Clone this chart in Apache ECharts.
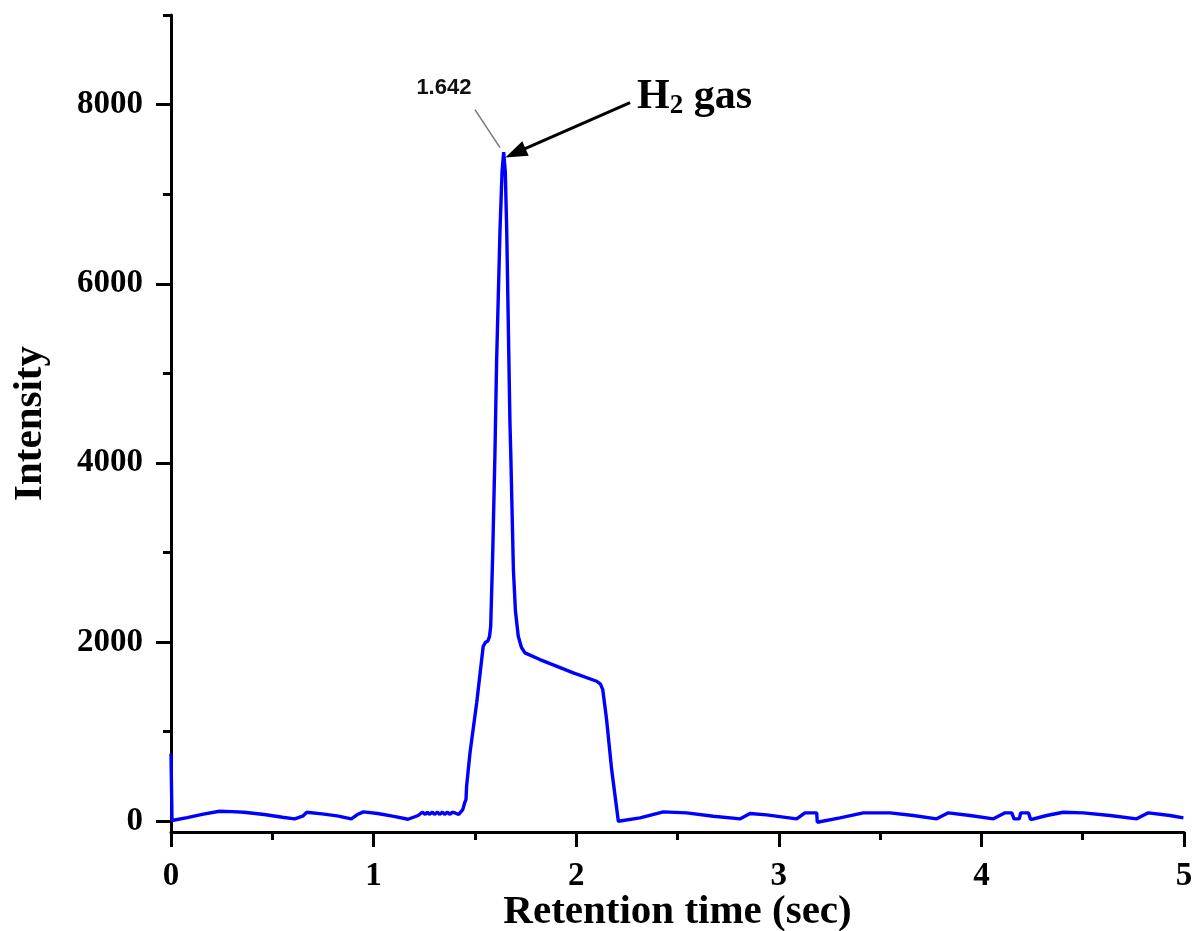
<!DOCTYPE html>
<html>
<head>
<meta charset="utf-8">
<script src="https://cdn.jsdelivr.net/npm/echarts@6/dist/echarts.min.js"></script>
<style>
html,body{margin:0;padding:0;background:#fff;}
#chart{width:1196px;height:931px;}
</style>
</head>
<body>
<div id="chart"></div>
<script>
// ---- data ----
const retentionTime = [0, 0.005, 0.08, 0.16, 0.24, 0.30, 0.36, 0.46, 0.55, 0.61, 0.65, 0.67, 0.745, 0.82, 0.89, 0.92, 0.95, 1.02, 1.10, 1.17, 1.22, 1.24, 1.255, 1.265, 1.275, 1.29, 1.30, 1.315, 1.325, 1.34, 1.35, 1.365, 1.375, 1.39, 1.40, 1.42, 1.44, 1.45, 1.456, 1.459, 1.476, 1.509, 1.541, 1.553, 1.563, 1.572, 1.578, 1.588, 1.599, 1.607, 1.624, 1.634, 1.642, 1.650, 1.657, 1.673, 1.677, 1.690, 1.700, 1.714, 1.730, 1.747, 1.821, 1.986, 2.101, 2.120, 2.131, 2.150, 2.175, 2.208, 2.315, 2.43, 2.545, 2.677, 2.81, 2.858, 2.94, 3.088, 3.129, 3.187, 3.190, 3.302, 3.417, 3.516, 3.549, 3.664, 3.779, 3.837, 3.944, 4.059, 4.117, 4.150, 4.161, 4.187, 4.194, 4.232, 4.243, 4.322, 4.404, 4.503, 4.635, 4.766, 4.824, 4.931, 4.997];
const intensity = [750, 8, 40, 80, 112, 108, 100, 75, 45, 27, 56, 100, 82, 60, 27, 75, 105, 86, 55, 22, 64, 100, 78, 100, 78, 100, 78, 100, 78, 100, 78, 100, 78, 100, 95, 75, 130, 210, 242, 390, 767, 1325, 1953, 2000, 2009, 2060, 2177, 2996, 4115, 5120, 6605, 7250, 7470, 7250, 6605, 4447, 4112, 2810, 2350, 2065, 1940, 1880, 1805, 1656, 1563, 1530, 1470, 1135, 577, 0, 38, 105, 94, 56, 27, 86, 71, 27, 94, 94, -11, 38, 94, 94, 94, 64, 27, 94, 64, 27, 94, 94, 27, 27, 94, 94, 19, 64, 100, 94, 64, 27, 94, 64, 38];
const yMajorTicks = [0, 2000, 4000, 6000, 8000];
const yMinorTicks = [1000, 3000, 5000, 7000, 9000];
const peakLabel = '1.642';
const peakLabelAt = [1.347, 8190];
const leaderLine = [[1.500, 7944], [1.624, 7520]];
const gasArrow = [[2.266, 8022], [1.700, 7460]];
const gasLabelAt = [2.300, 8083];

const serif = 'Liberation Serif, Times New Roman, serif';
const chart = echarts.init(document.getElementById('chart'), null, {renderer: 'canvas'});
const axisLineStyle = {color: '#000', width: 3};
const labelStyle = {color: '#000', fontFamily: serif, fontWeight: 'bold', fontSize: 33};
const nameStyle = {color: '#000', fontFamily: serif, fontWeight: 'bold', fontSize: 41};

const option = {
  animation: false,
  backgroundColor: '#fff',
  grid: {left: 171, right: 12, top: 15, bottom: 99, containLabel: false, outerBoundsMode: 'none'},
  xAxis: {
    type: 'value', min: 0, max: 5, interval: 1,
    axisLine: {onZero: false, lineStyle: axisLineStyle},
    axisTick: {length: 15, lineStyle: {color: '#000', width: 3}},
    minorTick: {show: true, splitNumber: 2, length: 8, lineStyle: {color: '#000', width: 3}},
    splitLine: {show: false},
    axisLabel: Object.assign({margin: 28, formatter: v => String(v)}, labelStyle),
    name: 'Retention time (sec)', nameLocation: 'middle', nameGap: 60, nameMoveOverlap: false,
    nameTextStyle: nameStyle
  },
  yAxis: [{
    type: 'value', min: -120, max: 9000,
    axisLine: {onZero: false, lineStyle: axisLineStyle},
    axisTick: {length: 15, customValues: yMajorTicks, lineStyle: {color: '#000', width: 3}},
    splitLine: {show: false},
    axisLabel: Object.assign({margin: 28, customValues: yMajorTicks, formatter: v => String(v)}, labelStyle),
    name: 'Intensity', nameLocation: 'middle', nameGap: 120, nameMoveOverlap: false,
    nameTextStyle: nameStyle
  }, {
    type: 'value', min: -120, max: 9000, position: 'left',
    axisLine: {show: false, onZero: false},
    axisTick: {length: 8, customValues: yMinorTicks, lineStyle: {color: '#000', width: 3}},
    splitLine: {show: false},
    axisLabel: {show: false}
  }],
  series: [{
    type: 'line',
    xAxisIndex: 0, yAxisIndex: 0,
    data: retentionTime.map((t, i) => [t, intensity[i]]),
    showSymbol: false,
    symbol: 'none',
    lineStyle: {color: '#0000ff', width: 3.4},
    markLine: {
      silent: true,
      animation: false,
      label: {show: false},
      data: [
        [{coord: leaderLine[0], symbol: 'none', lineStyle: {color: '#777', width: 1.5, type: 'solid'}},
         {coord: leaderLine[1], symbol: 'none'}],
        [{coord: gasArrow[0], symbol: 'none', lineStyle: {color: '#000', width: 3, type: 'solid'}},
         {coord: gasArrow[1], symbol: 'triangle', symbolSize: [16, 22]}]
      ]
    }
  }]
};
chart.setOption(option);

const p1 = chart.convertToPixel({seriesIndex: 0}, peakLabelAt);
const p2 = chart.convertToPixel({seriesIndex: 0}, gasLabelAt);
chart.setOption({
  graphic: [{
    type: 'text', x: p1[0], y: p1[1],
    style: {text: peakLabel, fill: '#111', font: 'bold 22px "Liberation Sans", Arial, sans-serif', align: 'center', verticalAlign: 'middle'}
  }, {
    type: 'text', x: p2[0], y: p2[1],
    style: {
      text: '{a|H}{b|2}{a| gas}',
      align: 'left', verticalAlign: 'middle',
      rich: {
        a: {fill: '#000', fontFamily: serif, fontWeight: 'bold', fontSize: 42, lineHeight: 44},
        b: {fill: '#000', fontFamily: serif, fontWeight: 'bold', fontSize: 27, lineHeight: 16, verticalAlign: 'bottom'}
      }
    }
  }]
});
</script>
</body>
</html>
